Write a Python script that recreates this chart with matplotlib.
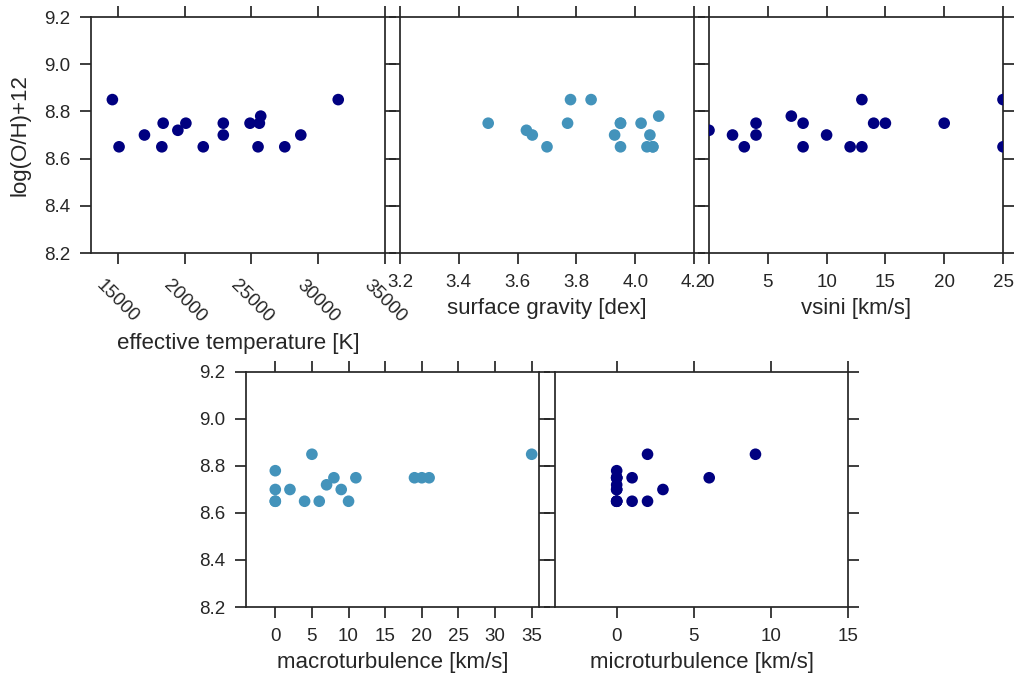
import matplotlib
matplotlib.use("Agg")
import matplotlib.pyplot as plt

plt.rcParams["font.family"] = ["Liberation Sans", "DejaVu Sans"]
plt.rcParams["text.color"] = "#262626"
plt.rcParams["axes.labelcolor"] = "#262626"
plt.rcParams["axes.edgecolor"] = "#262626"
plt.rcParams["axes.linewidth"] = 1.25
plt.rcParams["xtick.color"] = "#262626"
plt.rcParams["ytick.color"] = "#262626"
plt.rcParams["xtick.direction"] = "out"
plt.rcParams["ytick.direction"] = "out"

# oxygen abundance of the sample stars
teff = [14600, 15100, 17000, 18400, 18300, 19500, 20100, 21400, 22900, 22900,
        24900, 25600, 25700, 25500, 27500, 28700, 31500]
oh_teff = [8.85, 8.65, 8.70, 8.75, 8.65, 8.72, 8.75, 8.65, 8.75, 8.70,
           8.75, 8.75, 8.78, 8.65, 8.65, 8.70, 8.85]

logg = [3.50, 3.63, 3.65, 3.70, 3.77, 3.78, 3.85, 3.93, 3.95, 3.95,
        3.95, 4.02, 4.05, 4.04, 4.06, 4.06, 4.08]
oh_logg = [8.75, 8.72, 8.70, 8.65, 8.75, 8.85, 8.85, 8.70, 8.75, 8.65,
           8.75, 8.75, 8.70, 8.65, 8.65, 8.65, 8.78]

vsini = [0, 2, 3, 4, 4, 7, 8, 8, 10, 12, 13, 13, 14, 15, 20, 25, 25]
oh_vsini = [8.72, 8.70, 8.65, 8.75, 8.70, 8.78, 8.75, 8.65, 8.70, 8.65,
            8.65, 8.85, 8.75, 8.75, 8.75, 8.85, 8.65]

macro = [0, 0, 0, 0, 2, 5, 4, 6, 7, 8, 9, 10, 11, 19, 20, 21, 35]
oh_macro = [8.78, 8.70, 8.65, 8.65, 8.70, 8.85, 8.65, 8.65, 8.72, 8.75,
            8.70, 8.65, 8.75, 8.75, 8.75, 8.75, 8.85]

micro = [0, 0, 0, 0, 0, 0, 0, 0, 0, 1, 1, 2, 2, 3, 6, 9, 0]
oh_micro = [8.78, 8.75, 8.75, 8.75, 8.72, 8.70, 8.70, 8.65, 8.65, 8.75,
            8.65, 8.85, 8.65, 8.70, 8.75, 8.85, 8.65]

dark = "#000080"
light = "#4393bb"

fig = plt.figure(figsize=(10.19, 6.78), dpi=100)
W, H = 1019, 678


def make_axes(x0, x1, y0, y1):
    return fig.add_axes([x0 / W, 1 - y1 / H, (x1 - x0) / W, (y1 - y0) / H])


panels = [
    (make_axes(91, 385, 17, 253), teff, oh_teff, dark, (13000, 35000),
     range(15000, 35001, 5000), "effective temperature [K]"),
    (make_axes(400, 694, 17, 253), logg, oh_logg, light, (3.2, 4.2),
     [3.2, 3.4, 3.6, 3.8, 4.0, 4.2], "surface gravity [dex]"),
    (make_axes(709, 1003, 17, 253), vsini, oh_vsini, dark, (0, 25),
     range(0, 26, 5), "vsini [km/s]"),
    (make_axes(246, 539, 372, 607), macro, oh_macro, light, (-4, 36),
     range(0, 36, 5), "macroturbulence [km/s]"),
    (make_axes(555, 848, 372, 607), micro, oh_micro, dark, (-4, 15),
     range(0, 16, 5), "microturbulence [km/s]"),
]

for i, (ax, x, y, color, xlim, xticks, xlabel) in enumerate(panels):
    ax.scatter(x, y, s=70, color=color, edgecolors="none", zorder=3)
    ax.set_xlim(*xlim)
    ax.set_ylim(8.2, 9.2)
    ax.set_xticks(list(xticks))
    ax.set_yticks([8.2, 8.4, 8.6, 8.8, 9.0, 9.2])
    ax.tick_params(which="both", top=True, right=True, length=8, width=1.25,
                   labelsize=13.5, pad=7)
    if i == 1:
        ax.set_xticklabels(["3.2", "3.4", "3.6", "3.8", "4.0", "4.2"])
    if i not in (0, 3):
        ax.set_yticklabels([])
    ax.set_xlabel(xlabel, fontsize=16, labelpad=5)

ax0 = panels[0][0]
ax0.set_ylabel("log(O/H)+12", fontsize=16, labelpad=10)
ax0.tick_params(axis="x", pad=9)
plt.setp(ax0.get_xticklabels(), rotation=-45, ha="center")

fig.savefig("out.png", dpi=100)
